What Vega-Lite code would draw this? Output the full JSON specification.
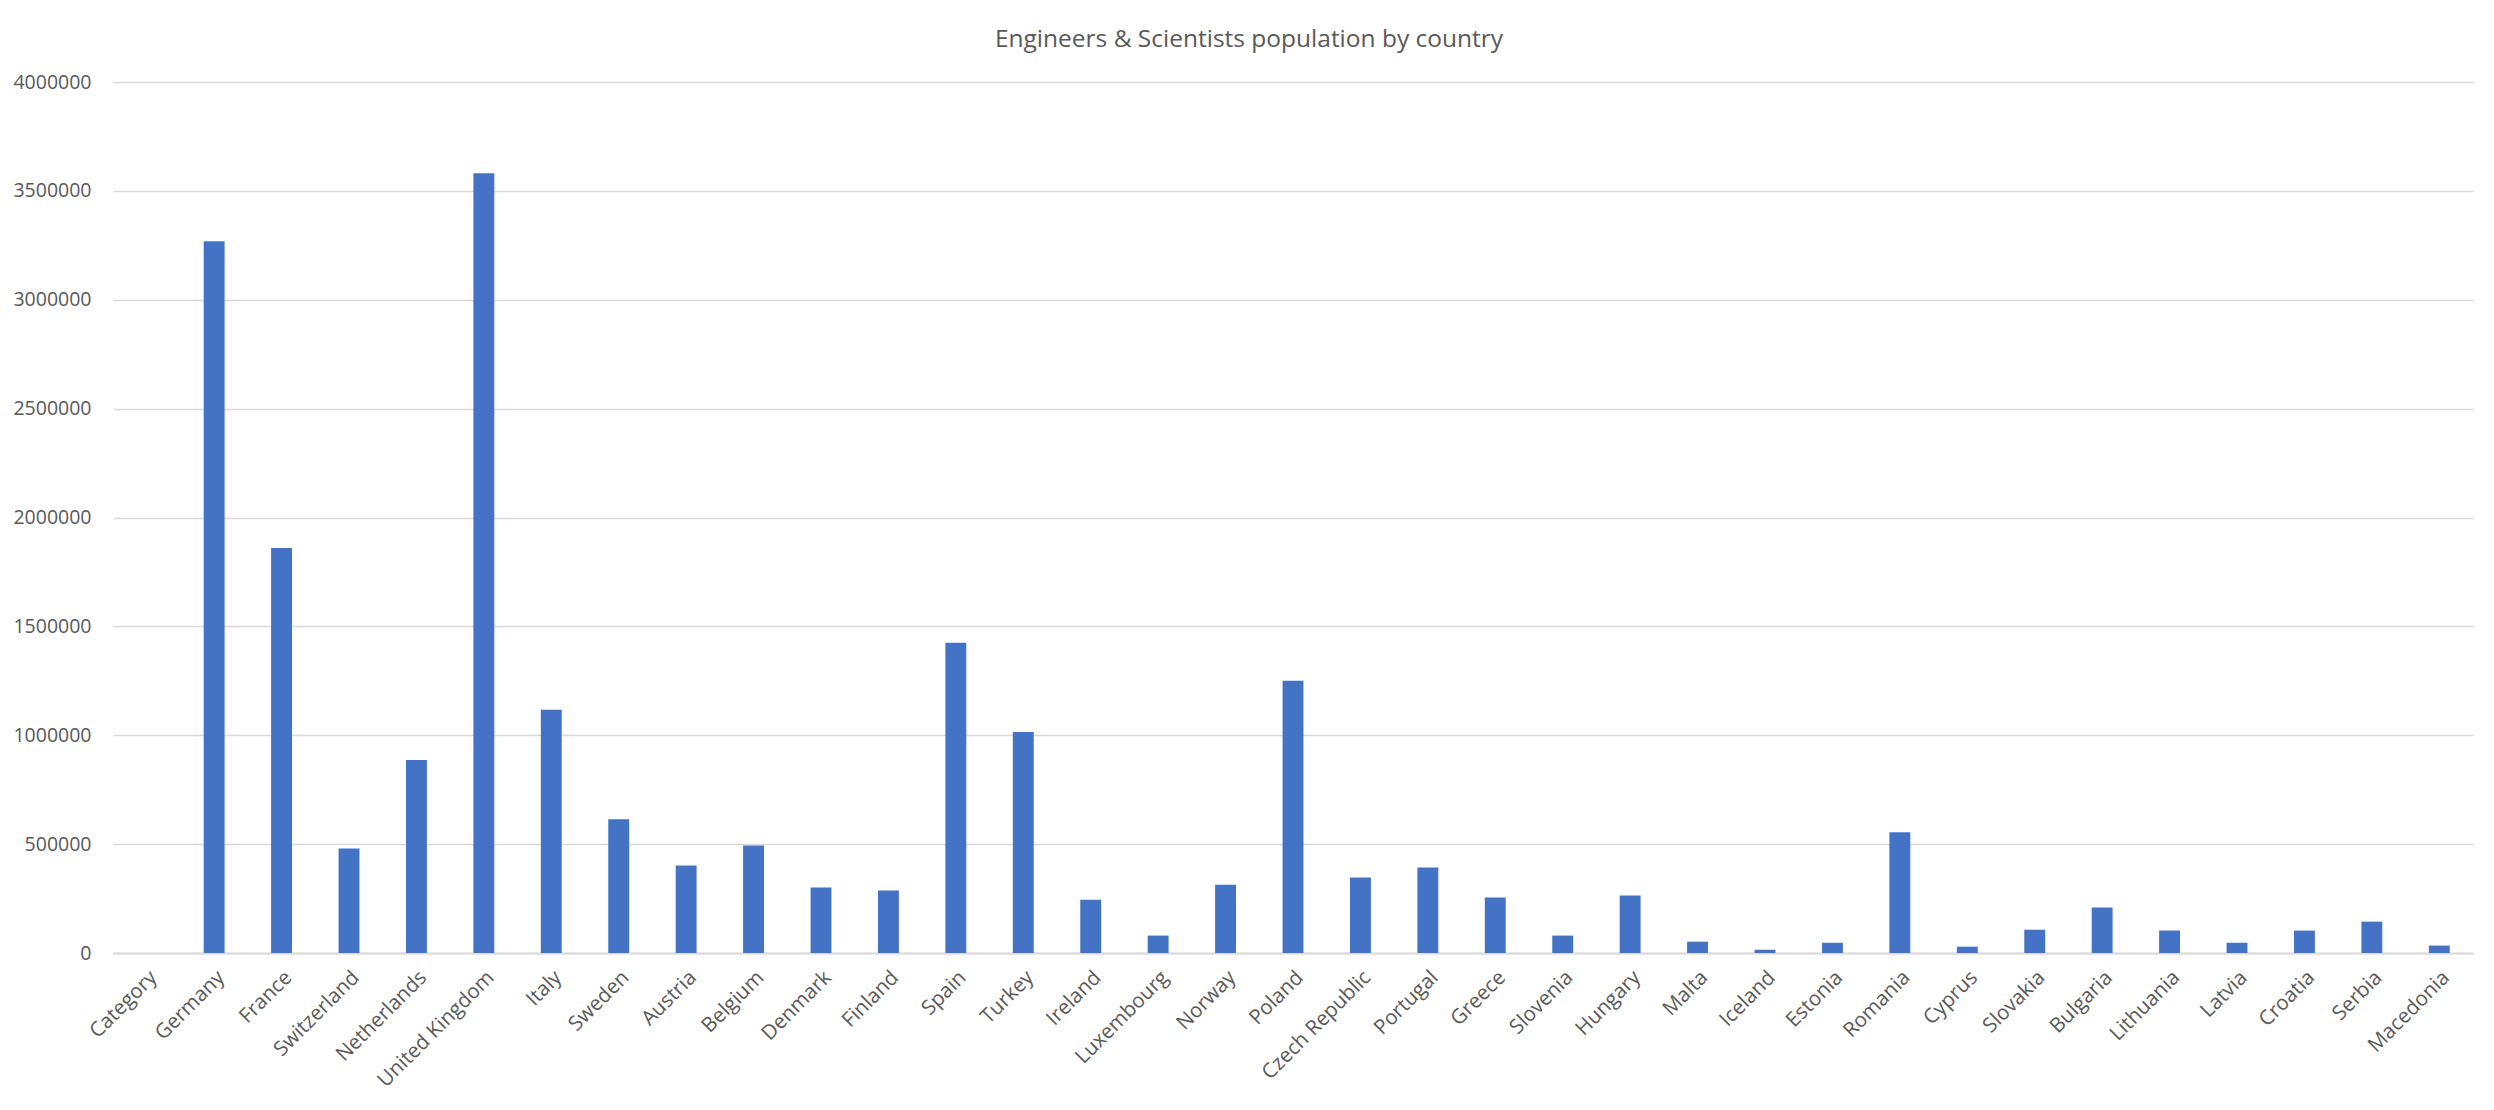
{
  "$schema": "https://vega.github.io/schema/vega-lite/v6.json",
  "autosize": {"type": "none"},
  "width": 2360,
  "height": 871,
  "padding": {"left": 113, "top": 82, "right": 21, "bottom": 157},
  "background": "white",
  "title": {
    "text": "Engineers & Scientists population by country",
    "font": "Open Sans",
    "fontSize": 24.5,
    "fontWeight": "normal",
    "color": "#595959",
    "anchor": "middle",
    "dx": -44,
    "offset": 20
  },
  "data": {
    "values": [
      {"country": "Category", "population": null},
      {"country": "Germany", "population": 3269000},
      {"country": "France", "population": 1860000},
      {"country": "Switzerland", "population": 480000},
      {"country": "Netherlands", "population": 886000},
      {"country": "United Kingdom", "population": 3581000},
      {"country": "Italy", "population": 1117000},
      {"country": "Sweden", "population": 614000},
      {"country": "Austria", "population": 402000},
      {"country": "Belgium", "population": 494000},
      {"country": "Denmark", "population": 301000},
      {"country": "Finland", "population": 287000},
      {"country": "Spain", "population": 1425000},
      {"country": "Turkey", "population": 1015000},
      {"country": "Ireland", "population": 245000},
      {"country": "Luxembourg", "population": 80000},
      {"country": "Norway", "population": 314000},
      {"country": "Poland", "population": 1250000},
      {"country": "Czech Republic", "population": 347000},
      {"country": "Portugal", "population": 393000},
      {"country": "Greece", "population": 255000},
      {"country": "Slovenia", "population": 80000},
      {"country": "Hungary", "population": 264000},
      {"country": "Malta", "population": 52000},
      {"country": "Iceland", "population": 15000},
      {"country": "Estonia", "population": 47000},
      {"country": "Romania", "population": 554000},
      {"country": "Cyprus", "population": 29000},
      {"country": "Slovakia", "population": 107000},
      {"country": "Bulgaria", "population": 209000},
      {"country": "Lithuania", "population": 103000},
      {"country": "Latvia", "population": 47000},
      {"country": "Croatia", "population": 103000},
      {"country": "Serbia", "population": 144000},
      {"country": "Macedonia", "population": 34000}
    ]
  },
  "mark": {"type": "bar", "color": "#4472C4"},
  "encoding": {
    "x": {
      "field": "country",
      "type": "nominal",
      "title": null,
      "scale": {
        "domain": ["Category", "Germany", "France", "Switzerland", "Netherlands", "United Kingdom", "Italy", "Sweden", "Austria", "Belgium", "Denmark", "Finland", "Spain", "Turkey", "Ireland", "Luxembourg", "Norway", "Poland", "Czech Republic", "Portugal", "Greece", "Slovenia", "Hungary", "Malta", "Iceland", "Estonia", "Romania", "Cyprus", "Slovakia", "Bulgaria", "Lithuania", "Latvia", "Croatia", "Serbia", "Macedonia"],
        "paddingInner": 0.69,
        "paddingOuter": 0.345
      },
      "axis": {
        "labelAngle": -45,
        "labelFont": "Open Sans",
        "labelFontSize": 20.5,
        "labelColor": "#595959",
        "labelPadding": 14,
        "ticks": false,
        "domainColor": "#d9d9d9",
        "domainWidth": 2,
        "grid": false
      }
    },
    "y": {
      "field": "population",
      "type": "quantitative",
      "title": null,
      "scale": {"domain": [0, 4000000], "nice": false},
      "axis": {
        "values": [0, 500000, 1000000, 1500000, 2000000, 2500000, 3000000, 3500000, 4000000],
        "format": "d",
        "labelFont": "Open Sans",
        "labelFontSize": 19.5,
        "labelColor": "#595959",
        "labelPadding": 22,
        "ticks": false,
        "domain": false,
        "grid": true,
        "gridColor": "#d9d9d9",
        "gridWidth": 1.5
      }
    }
  },
  "config": {
    "view": {"stroke": null}
  }
}
